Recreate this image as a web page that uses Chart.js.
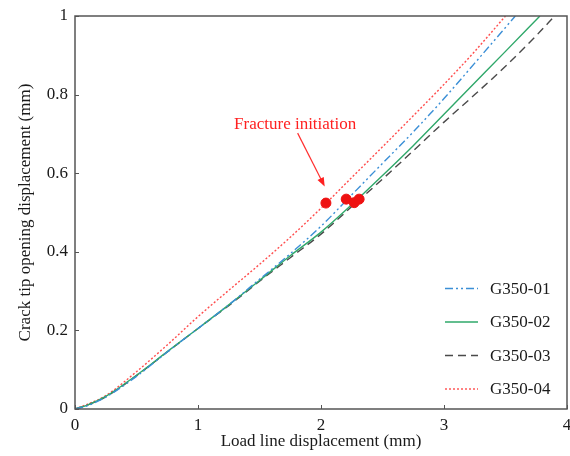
<!DOCTYPE html>
<html><head><meta charset="utf-8">
<script src="https://cdn.jsdelivr.net/npm/chart.js@4/dist/chart.umd.min.js"></script>
<style>html,body{margin:0;padding:0;background:#fff}#wrap{width:570px;height:456px}</style>
</head><body><div id="wrap"><canvas id="c" width="570" height="456"></canvas></div>
<script>
// ---- data ----
const seriesNames = ['G350-01', 'G350-02', 'G350-03', 'G350-04'];
const x01 = [0, 0.1, 0.25, 0.5, 0.75, 1.0, 1.25, 1.5, 1.75, 2.0, 2.25, 2.5, 2.75, 3.0, 3.25, 3.58];
const y01 = [0, 0.008, 0.03, 0.083, 0.145, 0.205, 0.265, 0.33, 0.395, 0.465, 0.545, 0.625, 0.705, 0.79, 0.88, 1.0];
const x02 = [0, 0.1, 0.25, 0.5, 0.75, 1.0, 1.25, 1.5, 1.75, 2.0, 2.25, 2.5, 2.75, 3.0, 3.25, 3.5, 3.78];
const y02 = [0, 0.01, 0.032, 0.086, 0.146, 0.205, 0.265, 0.327, 0.39, 0.45, 0.52, 0.594, 0.67, 0.75, 0.83, 0.91, 1.0];
const x03 = [0, 0.1, 0.25, 0.5, 0.75, 1.0, 1.25, 1.5, 1.75, 2.0, 2.25, 2.5, 2.75, 3.0, 3.25, 3.5, 3.75, 3.9];
const y03 = [0, 0.01, 0.031, 0.085, 0.145, 0.205, 0.263, 0.325, 0.385, 0.445, 0.515, 0.585, 0.657, 0.73, 0.8, 0.872, 0.95, 1.0];
const x04 = [0, 0.1, 0.25, 0.5, 0.75, 1.0, 1.25, 1.5, 1.75, 2.0, 2.25, 2.5, 2.75, 3.0, 3.25, 3.5];
const y04 = [0, 0.012, 0.034, 0.095, 0.163, 0.235, 0.302, 0.368, 0.437, 0.511, 0.589, 0.667, 0.746, 0.826, 0.91, 1.0];
const fractureX = [2.04, 2.205, 2.27, 2.31];
const fractureY = [0.524, 0.534, 0.525, 0.534];
const xTicks = [0, 1, 2, 3, 4];
const yTicks = [0, 0.2, 0.4, 0.6, 0.8, 1];
const xTitle = 'Load line displacement (mm)';
const yTitle = 'Crack tip opening displacement (mm)';
const noteText = 'Fracture initiation';
const noteAt = [1.79, 0.725];
const arrowFrom = [1.81, 0.702];
const arrowTo = [2.03, 0.566];

const pts = (xs, ys) => xs.map((v, i) => ({x: v, y: ys[i]}));
const FONT = "'Liberation Serif', 'Times New Roman', serif";

const styles = [
  {color: '#3b8fd6', dash: [8, 3, 2, 3, 2, 3], width: 1.4},
  {color: '#2fa86a', dash: [], width: 1.4},
  {color: '#4a4a4a', dash: [8, 5], width: 1.4},
  {color: '#ff4d4d', dash: [2, 2], width: 1.4}
];
const seriesData = [pts(x01, y01), pts(x02, y02), pts(x03, y03), pts(x04, y04)];

const datasets = seriesNames.map((n, i) => ({
  label: n, data: seriesData[i], showLine: true, pointRadius: 0, pointHoverRadius: 0,
  borderColor: styles[i].color, borderDash: styles[i].dash, borderWidth: styles[i].width,
  tension: 0.4, cubicInterpolationMode: 'monotone', fill: false, order: 2
}));
datasets.push({
  label: 'fracture', data: pts(fractureX, fractureY), showLine: false,
  pointRadius: 5, pointHoverRadius: 5, pointBackgroundColor: '#ee1111', pointBorderColor: '#ee1111', order: 1
});

const deco = {
  id: 'deco',
  afterDatasetsDraw(chart) {
    const {ctx, chartArea: a, scales: {x, y}} = chart;
    ctx.save();
    // inward ticks
    ctx.strokeStyle = '#555'; ctx.lineWidth = 1;
    xTicks.forEach(v => {
      const px = Math.round(x.getPixelForValue(v)) + 0.5;
      ctx.beginPath(); ctx.moveTo(px, a.bottom); ctx.lineTo(px, a.bottom - 4); ctx.stroke();
    });
    yTicks.forEach(v => {
      const py = Math.round(y.getPixelForValue(v)) + 0.5;
      ctx.beginPath(); ctx.moveTo(a.left, py); ctx.lineTo(a.left + 4, py); ctx.stroke();
    });
    // frame
    ctx.lineWidth = 1.5; ctx.strokeStyle = '#555';
    ctx.strokeRect(a.left, a.top, a.right - a.left, a.bottom - a.top);
    // annotation
    ctx.fillStyle = '#ff2020'; ctx.strokeStyle = '#ff3030';
    ctx.font = '17px ' + FONT; ctx.textAlign = 'center'; ctx.textBaseline = 'middle';
    ctx.fillText(noteText, x.getPixelForValue(noteAt[0]), y.getPixelForValue(noteAt[1]));
    const x1 = x.getPixelForValue(arrowFrom[0]), y1 = y.getPixelForValue(arrowFrom[1]);
    const x2 = x.getPixelForValue(arrowTo[0]), y2 = y.getPixelForValue(arrowTo[1]);
    const ang = Math.atan2(y2 - y1, x2 - x1);
    ctx.lineWidth = 1.2;
    ctx.beginPath(); ctx.moveTo(x1, y1); ctx.lineTo(x2 - 7 * Math.cos(ang), y2 - 7 * Math.sin(ang)); ctx.stroke();
    ctx.beginPath();
    ctx.moveTo(x2, y2);
    ctx.lineTo(x2 - 9 * Math.cos(ang) + 3.5 * Math.sin(ang), y2 - 9 * Math.sin(ang) - 3.5 * Math.cos(ang));
    ctx.lineTo(x2 - 9 * Math.cos(ang) - 3.5 * Math.sin(ang), y2 - 9 * Math.sin(ang) + 3.5 * Math.cos(ang));
    ctx.closePath(); ctx.fill();
    // legend
    ctx.textAlign = 'left'; ctx.textBaseline = 'middle'; ctx.font = '17px ' + FONT;
    seriesNames.forEach((n, i) => {
      const ry = a.bottom - 20 - (3 - i) * 33.5;
      ctx.strokeStyle = styles[i].color; ctx.lineWidth = 1.4; ctx.setLineDash(styles[i].dash);
      ctx.beginPath(); ctx.moveTo(a.right - 122, ry); ctx.lineTo(a.right - 89, ry); ctx.stroke();
      ctx.setLineDash([]);
      ctx.fillStyle = '#1a1a1a';
      ctx.fillText(n, a.right - 77, ry + 1);
    });
    ctx.restore();
  }
};

new Chart(document.getElementById('c'), {
  type: 'scatter',
  data: {datasets},
  options: {
    responsive: false, animation: false, devicePixelRatio: 1,
    layout: {autoPadding: false, padding: {left: 0, right: 3, top: 16, bottom: 0}},
    plugins: {legend: {display: false}, tooltip: {enabled: false}},
    scales: {
      x: {
        type: 'linear', min: 0, max: 4,
        afterBuildTicks: s => { s.ticks = xTicks.map(v => ({value: v})); },
        afterFit: s => { s.height = 47; s.paddingLeft = 0; s.paddingRight = 0; },
        grid: {display: false, drawTicks: false}, border: {display: false},
        ticks: {padding: 6, color: '#1a1a1a', font: {family: FONT, size: 17}},
        title: {display: true, text: xTitle, color: '#1a1a1a', font: {family: FONT, size: 17}, padding: {top: 0, bottom: 4}}
      },
      y: {
        type: 'linear', min: 0, max: 1,
        afterBuildTicks: s => { s.ticks = yTicks.map(v => ({value: v})); },
        afterFit: s => { s.width = 75; s.paddingTop = 0; s.paddingBottom = 0; },
        grid: {display: false, drawTicks: false}, border: {display: false},
        ticks: {padding: 7, color: '#1a1a1a', font: {family: FONT, size: 17}, callback: v => String(v)},
        title: {display: true, text: yTitle, color: '#1a1a1a', font: {family: FONT, size: 17}, padding: {top: 15, bottom: 0}}
      }
    }
  },
  plugins: [deco]
});
</script></body></html>
